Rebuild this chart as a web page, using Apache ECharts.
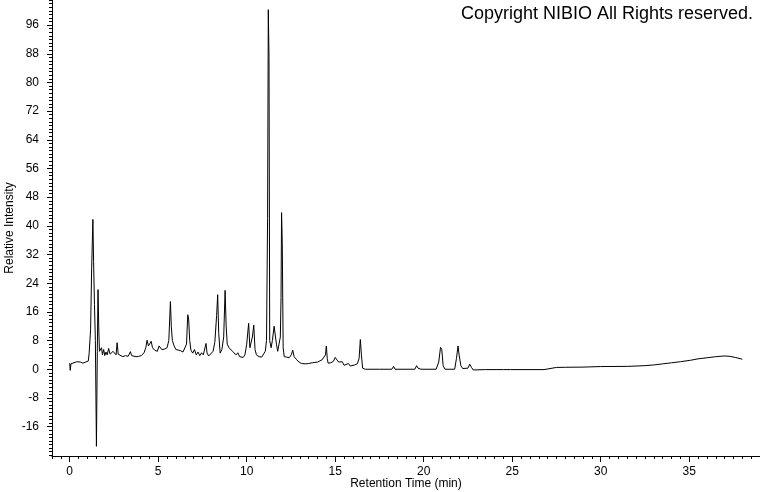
<!DOCTYPE html>
<html>
<head>
<meta charset="utf-8">
<script src="https://cdn.jsdelivr.net/npm/echarts@6/dist/echarts.min.js"></script>
<style>
html,body{margin:0;padding:0;background:#fff;}
#c{width:760px;height:492px;}
</style>
</head>
<body>
<div id="c"></div>
<script>
const times = [
0.0,0.03,0.07,0.15,0.4,0.6,0.75,0.9,1.05,1.1,1.18,1.24,1.31,1.35,1.4,1.45,1.51,1.56,1.6,1.64,1.68,1.75,1.8,1.85,1.92,1.98,2.05,2.12,2.2,2.28,2.35,2.45,2.55,2.62,2.68,2.74,2.85,3.0,3.15,3.3,3.43,3.5,3.6,3.75,3.9,4.05,4.2,4.3,4.37,4.45,4.53,4.6,4.68,4.8,4.95,5.05,5.12,5.2,5.35,5.5,5.6,5.69,5.74,5.8,5.9,6.0,6.1,6.25,6.4,6.5,6.6,6.67,6.72,6.78,6.85,6.95,7.05,7.15,7.25,7.35,7.45,7.55,7.62,7.7,7.76,7.85,7.95,8.1,8.2,8.3,8.36,8.42,8.5,8.6,8.7,8.78,8.84,8.9,9.0,9.1,9.2,9.3,9.4,9.5,9.6,9.7,9.8,9.9,10.0,10.11,10.18,10.25,10.32,10.4,10.47,10.55,10.7,10.85,10.95,11.05,11.12,11.18,11.22,11.26,11.3,11.38,11.45,11.55,11.62,11.68,11.75,11.82,11.9,11.94,11.97,12.01,12.06,12.12,12.25,12.4,12.52,12.6,12.68,12.8,12.95,13.1,13.3,13.5,13.7,13.85,14.0,14.1,14.25,14.35,14.45,14.5,14.55,14.6,14.75,14.9,15.0,15.1,15.2,15.3,15.4,15.5,15.6,15.75,15.85,15.95,16.1,16.25,16.35,16.42,16.48,16.55,16.7,17.5,18.2,18.3,18.38,19.5,19.6,19.68,19.75,19.85,20.7,20.85,20.95,21.02,21.1,21.2,21.75,21.85,21.94,22.0,22.1,22.2,22.5,22.6,22.7,22.8,23.5,24.5,24.9,24.95,25.0,26.8,26.9,27.5,28.0,29.0,30.0,31.5,32.5,33.0,33.5,34.0,34.5,35.07,35.5,36.0,36.5,36.97,37.3,37.6,38.0
];
const intensity = [
1.7,-0.3,1.5,2.0,2.1,2.0,1.7,2.0,2.3,4.5,11,28,41.8,30,18,8,-21.5,5,22.2,12,5,4.5,6,4,5.5,3.8,4.8,4.0,5.8,4.2,3.8,5,4.5,4,7.4,4.2,3.8,3.5,3.8,3.6,4.9,3.8,4.3,3.5,3.6,3.8,4.6,6.0,8.1,6.5,6.2,7.8,6.0,5.3,5.0,6.5,7.0,5.5,5.6,6.0,8,18.9,12,8,6.5,5.5,5.0,5.2,4.8,5.0,7,15.2,14,8,5.3,4.5,5.5,4.0,4.8,3.8,4.6,4.0,4.5,7.2,4.5,3.7,3.8,5.0,7.5,15,20.8,10,4.5,5.5,9,22,12,7,6,5.5,5.0,4.8,4.0,4.6,3.5,3.8,3.3,4.0,7,12.8,6,5.5,9,12.3,5.5,4.0,3.5,3.4,3.6,5,8,42,100.3,87,8,6,8,12,11.9,7,5,5.5,9,20,43.7,35,6,3.5,3.4,3.2,4,5.3,3.5,2.8,2.0,1.6,1.5,1.6,1.8,1.9,2.0,2.3,2.6,3.0,4,6.5,3,1.7,1.8,2.2,3.3,2.6,2.0,1.5,2.1,1.1,1.0,1.6,0.9,1.0,1.2,1.5,3,8.3,4,0.3,0,0,0,0.8,0,0,1.0,0.3,0.8,0,0,2,6.1,5.5,1,0,0,3,6.5,4,1,0.2,0.3,1.4,0.5,-0.2,-0.1,-0.1,-0.1,0.2,-0.1,-0.1,0.2,0.5,0.55,0.6,0.75,0.8,1.0,1.2,1.5,1.8,2.1,2.5,2.9,3.2,3.5,3.7,3.6,3.3,2.8
];
const xMajorTicks = [0,5,10,15,20,25,30,35];
const yMajorTicks = [-16,-8,0,8,16,24,32,40,48,56,64,72,80,88,96];
const xMin = -1, xMax = 39, yMin = -24.2, yMax = 103;

const xMinorTicks = [];
for (let v = -1; v <= 39; v += 0.5) xMinorTicks.push(v);
const yMinorTicks = [];
for (let v = -24; v <= 103; v += 1) yMinorTicks.push(v);

const seriesData = times.map((t, i) => [t, intensity[i]]);
const font = 'Liberation Sans, Arial, sans-serif';

const chart = echarts.init(document.getElementById('c'), null, {renderer: 'canvas'});
chart.setOption({
  animation: false,
  backgroundColor: '#fff',
  grid: {left: 52, right: 0, top: 0, bottom: 36, containLabel: false, outerBoundsMode: 'none'},
  xAxis: [
    {
      type: 'value', min: xMin, max: xMax, position: 'bottom',
      axisLine: {show: true, onZero: false, lineStyle: {color: '#000', width: 1}},
      axisTick: {show: true, customValues: xMinorTicks, length: 3, lineStyle: {color: '#000'}},
      axisLabel: {show: false},
      splitLine: {show: false}
    },
    {
      type: 'value', min: xMin, max: xMax, position: 'bottom', offset: 0,
      axisLine: {show: false, onZero: false},
      axisTick: {show: true, customValues: xMajorTicks, length: 6, lineStyle: {color: '#000'}},
      axisLabel: {show: true, customValues: xMajorTicks, color: '#000', fontFamily: font, fontSize: 12, margin: 10},
      splitLine: {show: false},
      name: 'Retention Time (min)', nameLocation: 'middle', nameGap: 22, nameMoveOverlap: false,
      nameTextStyle: {color: '#000', fontFamily: font, fontSize: 12}
    }
  ],
  yAxis: [
    {
      type: 'value', min: yMin, max: yMax, position: 'left',
      axisLine: {show: true, onZero: false, lineStyle: {color: '#000', width: 1}},
      axisTick: {show: true, customValues: yMinorTicks, length: 3, lineStyle: {color: '#000'}},
      axisLabel: {show: false},
      splitLine: {show: false}
    },
    {
      type: 'value', min: yMin, max: yMax, position: 'left', offset: 0,
      axisLine: {show: false, onZero: false},
      axisTick: {show: true, customValues: yMajorTicks, length: 5, lineStyle: {color: '#000'}},
      axisLabel: {show: true, customValues: yMajorTicks, color: '#000', fontFamily: font, fontSize: 12, margin: 13},
      splitLine: {show: false},
      name: 'Relative Intensity', nameLocation: 'middle', nameGap: 36, nameMoveOverlap: false,
      nameTextStyle: {color: '#000', fontFamily: font, fontSize: 12}
    }
  ],
  graphic: [
    {type: 'text', right: 7, top: 5, style: {text: 'Copyright NIBIO All Rights reserved.', fill: '#000', font: '18px Liberation Sans, Arial, sans-serif'}}
  ],
  series: [
    {
      type: 'line', xAxisIndex: 0, yAxisIndex: 0, data: seriesData,
      showSymbol: false, symbol: 'none', smooth: false,
      lineStyle: {color: '#000', width: 1}, clip: true
    }
  ]
});
</script>
</body>
</html>
